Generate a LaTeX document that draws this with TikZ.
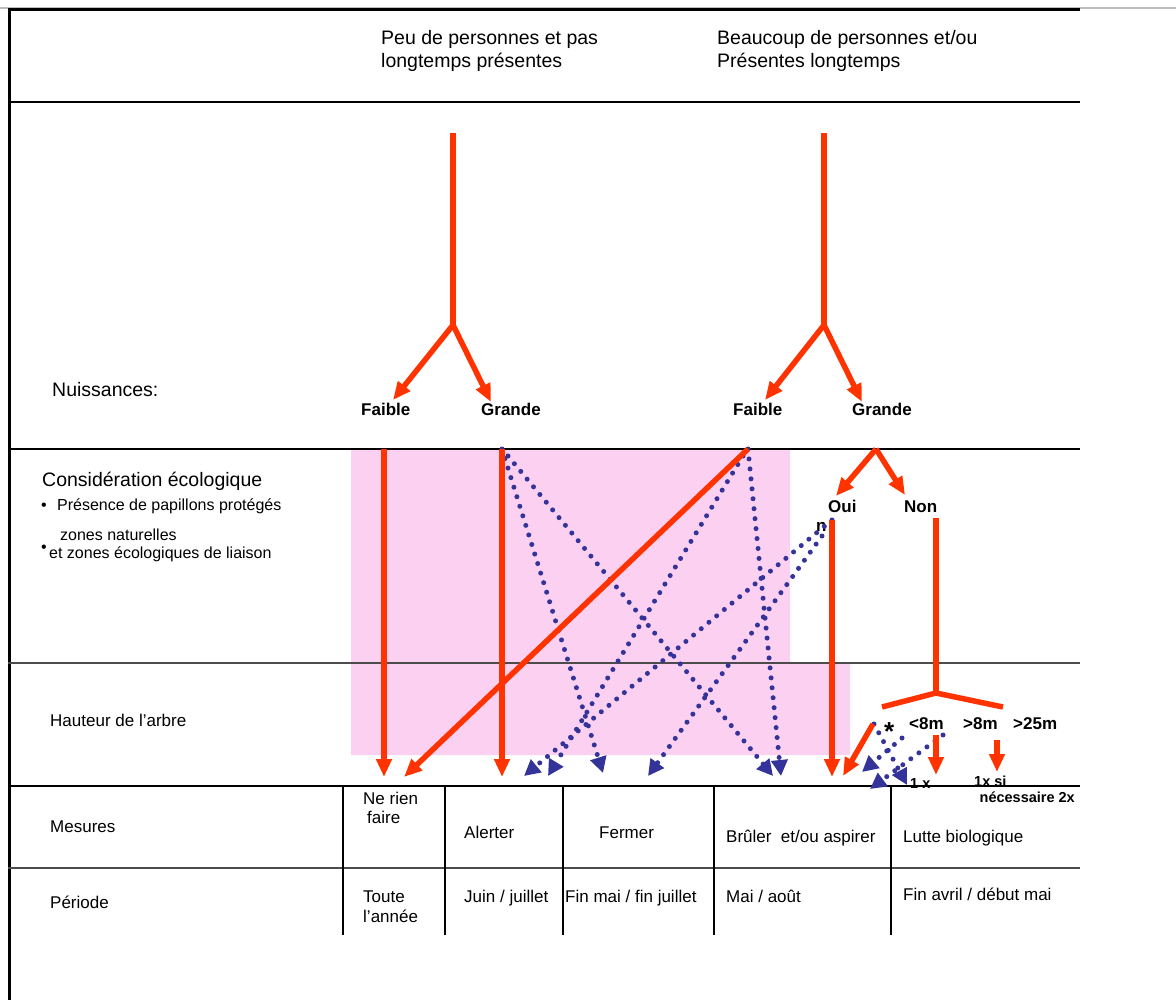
\documentclass[tikz,border=0pt]{standalone}
\usepackage{fontspec}
\setmainfont{Liberation Sans}
\usetikzlibrary{arrows.meta}
\definecolor{rd}{RGB}{255,51,0}
\definecolor{bl}{RGB}{51,51,153}
\definecolor{pk}{RGB}{251,208,240}
\begin{document}
\begin{tikzpicture}[x=1pt,y=-1pt,
 txt/.style={anchor=base west,inner sep=0pt,font=\fontsize{17}{20}\selectfont},
 big/.style={txt,font=\fontsize{19.5}{23}\selectfont},
 sml/.style={txt,font=\fontsize{16}{19}\selectfont},
 bld/.style={txt,font=\fontsize{17}{20}\selectfont\bfseries},
 tiny/.style={txt,font=\fontsize{14.5}{17}\selectfont\bfseries},
 redline/.style={draw=rd,line width=5.5pt},
 redarrow/.style={redline,-{Triangle[length=18pt,width=15pt]}},
 bluearrow/.style={draw=bl,line width=5pt,line cap=round,dash pattern=on 0pt off 10pt,-{Triangle[length=16pt,width=16pt]}},
 rule/.style={draw=black,line width=1.2pt},
 vrule/.style={draw=black,line width=1.5pt}]

\useasboundingbox (0,0) rectangle (1176,1000);

% pink zone
\fill[pk] (351,449) -- (790,449) -- (790,663) -- (850,663) -- (850,755) -- (351,755) -- cycle;

% frame and rules
\draw[gray!50,line width=2pt] (0,8) -- (1176,8);
\draw[black,line width=3pt] (8,10) -- (1080,10);
\draw[black,line width=3pt] (9,9) -- (9,1000);
\draw[rule] (8,102) -- (1080,102);
\draw[rule] (8,449) -- (1080,449);
\draw[rule,draw=black!70] (8,663) -- (1080,663);
\draw[rule] (8,786) -- (1080,786);
\draw[rule,draw=black!70] (8,868) -- (1080,868);
\foreach \xx in {343,445,563,714,891}{\draw[vrule] (\xx,786) -- (\xx,935);}

% header texts
\node[big] (peu1) at (381,45) {Peu de personnes et pas};
\node[big] (peu2) at (381,68) {longtemps présentes};
\node[big] (bea1) at (717,45) {Beaucoup de personnes et/ou};
\node[big] (bea2) at (717,68) {Présentes longtemps};
\node[big] (nuis) at (52,397) {Nuissances:};
\node[big] (cons) at (42,486) {Considération écologique};
\node[sml] (b1) at (41,510) {\textbullet};
\node[sml] (pres) at (57,510) {Présence de papillons protégés};
\node[sml] (b2) at (41,552) {\textbullet};
\node[sml] (zon1) at (60,540) {zones naturelles};
\node[sml] (zon2) at (49,558) {et zones écologiques de liaison};
\node[txt] (haut) at (50,726) {Hauteur de l’arbre};
\node[txt] (mes) at (50,832) {Mesures};
\node[txt] (per) at (50,908) {Période};

% branch labels
\node[bld] (fa1) at (361,415) {Faible};
\node[bld] (gr1) at (481,415) {Grande};
\node[bld] (fa2) at (733,415) {Faible};
\node[bld] (gr2) at (852,415) {Grande};
\node[bld] (oui) at (828,512) {Oui};
\node[bld] (nn) at (816,531) {n};
\node[bld] (non) at (904,512) {Non};
\node[txt,font=\fontsize{26}{28}\selectfont\bfseries] (star) at (884,740) {*};
\node[bld] (h8) at (909,729) {<8m};
\node[bld] (g8) at (963,729) {>8m};
\node[bld] (g25) at (1013,729) {>25m};
\node[tiny] (onex) at (910,788) {1 x};
\node[tiny] (onexsi) at (974,786) {1x si};
\node[tiny,anchor=base east] (nec) at (1075,802) {nécessaire 2x};

% table texts
\node[txt] (ner1) at (363,804) {Ne rien};
\node[txt] (ner2) at (367,823) {faire};
\node[txt] (ale) at (464,838) {Alerter};
\node[txt] (fer) at (599,838) {Fermer};
\node[txt] (bru) at (726,842) {Brûler\ \ et/ou aspirer};
\node[txt] (lut) at (903,842) {Lutte biologique};
\node[txt] (tou1) at (363,902) {Toute};
\node[txt] (tou2) at (363,922) {l’année};
\node[txt] (jui) at (464,902) {Juin / juillet};
\node[txt] (fin) at (565,902) {Fin mai / fin juillet};
\node[txt] (mai) at (726,902) {Mai / août};
\node[txt] (avr) at (903,900) {Fin avril / début mai};

% coordinates
\coordinate (t1top) at (453,133);
\coordinate (t1fork) at (453,325);
\coordinate (t1f) at (393,400);
\coordinate (t1g) at (491,402);
\coordinate (t2top) at (824,133);
\coordinate (t2fork) at (824,325);
\coordinate (t2f) at (765,400);
\coordinate (t2g) at (862,402);
\coordinate (faS) at (384,449);
\coordinate (grS) at (502,449);
\coordinate (fa2S) at (748,449);
\coordinate (gr2S) at (876,449);
\coordinate (ouiT) at (836,496);
\coordinate (nonT) at (905,495);
\coordinate (ouiS) at (832,520);
\coordinate (nonS) at (936,518);
\coordinate (hfork) at (936,693);
\coordinate (hl) at (882,707);
\coordinate (hr) at (1003,707);
\coordinate (e1) at (384,777);
\coordinate (e2) at (404,777);
\coordinate (e3) at (502,777);
\coordinate (e4) at (832,777);
\coordinate (e5) at (843,776);
\coordinate (stS) at (873,724);
\coordinate (a8S) at (936,735);
\coordinate (a8E) at (936,775);
\coordinate (a25S) at (997,740);
\coordinate (a25E) at (997,772);

% red trees
\draw[redline] (t1top) -- (t1fork);
\draw[redarrow] (t1fork) -- (t1f);
\draw[redarrow] (t1fork) -- (t1g);
\draw[redline] (t2top) -- (t2fork);
\draw[redarrow] (t2fork) -- (t2f);
\draw[redarrow] (t2fork) -- (t2g);
\draw[redarrow] (gr2S) -- (ouiT);
\draw[redarrow] (gr2S) -- (nonT);
\draw[redline] (nonS) -- (hfork);
\draw[redline] (hfork) -- (hl);
\draw[redline] (hfork) -- (hr);

% blue dotted arrows
\draw[bluearrow] (502,449) -- (603,773);
\draw[bluearrow] (508,456) -- (773,776);
\draw[bluearrow] (748,449) -- (781,776);
\draw[bluearrow] (743,456) -- (548,776);
\draw[bluearrow] (832,520) -- (524,776);
\draw[bluearrow] (822,536) -- (648,776);
\draw[bluearrow] (874,724) -- (907,785);
\draw[bluearrow] (902,738) -- (862,772);
\draw[bluearrow] (943,735) -- (870,789);

% red arrows down
\draw[redarrow] (faS) -- (e1);
\draw[redarrow] (fa2S) -- (e2);
\draw[redarrow] (grS) -- (e3);
\draw[redarrow] (ouiS) -- (e4);
\draw[redarrow] (stS) -- (e5);
\draw[redarrow] (a8S) -- (a8E);
\draw[redarrow] (a25S) -- (a25E);
\end{tikzpicture}
\end{document}
